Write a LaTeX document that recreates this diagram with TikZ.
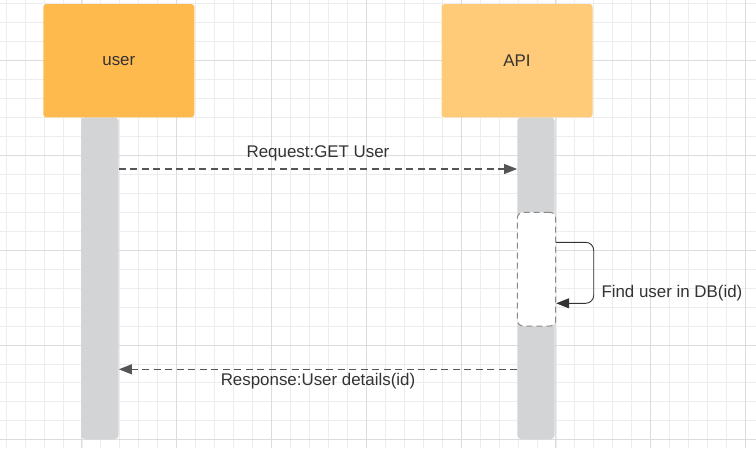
\documentclass[tikz,border=0pt]{standalone}
\usepackage{fontspec}
\setmainfont{Liberation Sans}
\usetikzlibrary{arrows.meta,calc}
\definecolor{gridminor}{HTML}{EDEDED}
\definecolor{gridmajor}{HTML}{DCDCDC}
\definecolor{userfill}{HTML}{FFBA4D}
\definecolor{apifill}{HTML}{FFCB78}
\definecolor{barfill}{HTML}{D3D4D6}
\definecolor{txt}{HTML}{333333}
\definecolor{dashcol}{HTML}{555555}
\definecolor{actcol}{HTML}{8A8A8A}
\tikzset{
  actor/.style={rectangle, rounded corners=3pt, minimum width=151pt, minimum height=113.3pt, inner sep=0pt, text=txt, font=\fontsize{16.9}{20}\selectfont},
  lifebar/.style={rectangle, rounded corners=4pt, fill=barfill, minimum width=37.4pt, minimum height=321.7pt, inner sep=0pt},
  activation/.style={rectangle, rounded corners=6pt, fill=white, draw=actcol, line width=1pt, dash pattern=on 6pt off 4pt, minimum width=38.4pt, minimum height=113.7pt, inner sep=0pt},
  msg/.style={draw=dashcol, line width=1.1pt, dash pattern=on 7pt off 4.5pt, -{Triangle[length=13pt,width=10pt]}},
  selfmsg/.style={draw=txt, line width=0.9pt, rounded corners=8pt, -{Triangle[length=13pt,width=10pt]}},
  lbl/.style={text=txt, inner sep=0pt, font=\fontsize{16.9}{20}\selectfont}
}
\begin{document}
\begin{tikzpicture}[x=1pt,y=-1pt]
\useasboundingbox (0,0) rectangle (756,448);
\fill[white] (0,0) rectangle (756,448);
% grid
\foreach \i in {-5,...,36} \draw[gridminor, line width=0.8pt] ({81.9+18.96*\i},0) -- ({81.9+18.96*\i},448);
\foreach \i in {-4,...,21} \draw[gridminor, line width=0.8pt] (0,{60.7+18.95*\i}) -- (756,{60.7+18.95*\i});
\foreach \i in {-1,...,7} \draw[gridmajor, line width=0.9pt] ({81.9+94.8*\i},0) -- ({81.9+94.8*\i},448);
\foreach \i in {-1,...,4} \draw[gridmajor, line width=0.9pt] (0,{60.7+94.75*\i}) -- (756,{60.7+94.75*\i});
% lifelines
\node[lifebar] (ubar) at (100,278.2) {};
\node[lifebar] (abar) at (536,278.2) {};
% actors
\node[actor, fill=userfill] (user) at (118.8,60.7) {user};
\node[actor, fill=apifill] (api) at (517,60.7) {API};
% activation
\node[activation] (actv) at (536.5,269.2) {};
% request
\coordinate (req) at (0,169);
\draw[msg] (ubar.east |- req) -- (abar.west |- req) node[lbl, midway, yshift=16pt] (reqlbl) {Request:GET User};
% self message
\coordinate (selftop) at (0,242.3);
\coordinate (selfbot) at (0,303.3);
\coordinate (loopx) at (593.7,0);
\draw[selfmsg] (actv.east |- selftop) -- (loopx |- selftop) -- (loopx |- selfbot) -- (actv.east |- selfbot);
\node[lbl, anchor=west] (findlbl) at (601.3,293.3) {Find user in DB(id)};
% response
\coordinate (resp) at (0,369.3);
\draw[msg] (abar.west |- resp) -- (ubar.east |- resp) node[lbl, midway, yshift=-12pt] (resplbl) {Response:User details(id)};
\end{tikzpicture}
\end{document}
